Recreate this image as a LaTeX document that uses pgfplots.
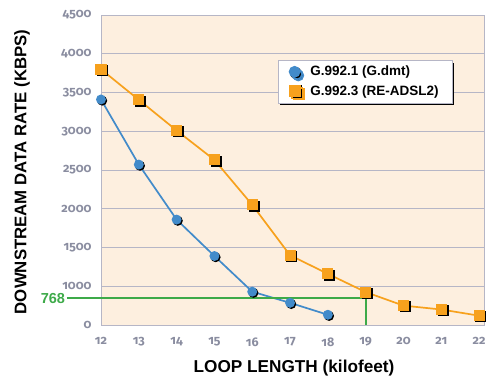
\documentclass[border=0pt]{standalone}
\usepackage{fontspec}
\setmainfont{Liberation Sans}
\newfontfamily\tickfont{Fira Sans}[Numbers=OldStyle]
\usepackage{pgfplots}
\pgfplotsset{compat=1.18}
\usetikzlibrary{shadows}
\definecolor{bgc}{HTML}{FDEFDF}
\definecolor{gridc}{HTML}{B6B6C6}
\definecolor{tickc}{HTML}{8A8DA0}
\definecolor{blueC}{HTML}{428BCA}
\definecolor{orangeC}{HTML}{F7A11D}
\definecolor{greenC}{HTML}{3DAA49}
\pgfdeclareplotmark{sdot}{%
  \pgfpathcircle{\pgfpoint{1.2pt}{-1.2pt}}{\pgfplotmarksize}%
  \pgfsetfillcolor{black}\pgfusepath{fill}%
  \pgfpathcircle{\pgfpointorigin}{\pgfplotmarksize}%
  \pgfsetfillcolor{blueC}\pgfusepath{fill}}
\pgfdeclareplotmark{ssq}{%
  \pgfpathrectangle{\pgfpoint{-\pgfplotmarksize+1.8pt}{-\pgfplotmarksize-1.2pt}}{\pgfpoint{2\pgfplotmarksize}{2\pgfplotmarksize}}%
  \pgfsetfillcolor{black}\pgfusepath{fill}%
  \pgfpathrectangle{\pgfpoint{-\pgfplotmarksize}{-\pgfplotmarksize}}{\pgfpoint{2\pgfplotmarksize}{2\pgfplotmarksize}}%
  \pgfsetfillcolor{orangeC}\pgfusepath{fill}}
\begin{document}
\begin{tikzpicture}
\begin{axis}[
  scale only axis, width=383pt, height=310pt,
  xmin=12, xmax=22.13, ymin=500, ymax=4500,
  xtick={12,13,14,15,16,17,18,19,20,21,22},
  xticklabels={12,13,14,15,16,17,18,19,20,21,22},
  ytick={500,1000,1500,2000,2500,3000,3500,4000,4500},
  yticklabels={0,1000,1500,2000,2500,3000,3500,4000,4500},
  ymajorgrids, grid style={gridc, line width=0.9pt},
  axis line style={gridc, line width=0.9pt},
  major tick length=0pt,
  tick label style={font=\tickfont\bfseries\fontsize{12.5}{14}\selectfont, text=tickc},
  xticklabel style={yshift=-9pt},
  yticklabel style={xshift=-6pt},
  axis background/.style={fill=bgc},
  clip=false,
  xlabel={LOOP LENGTH (kilofeet)},
  ylabel={DOWNSTREAM DATA RATE (KBPS)},
  xlabel style={at={(axis description cs:0.504,-0.139)}, anchor=center, font=\bfseries\fontsize{17.2}{19}\selectfont},
  ylabel style={at={(axis description cs:-0.206,0.494)}, anchor=center, rotate=0, font=\bfseries\fontsize{16.8}{19}\selectfont},
  legend style={at={(rel axis cs:0.461,0.855)}, anchor=north west, draw=gridc, fill=white,
    drop shadow={shadow xshift=2.5pt, shadow yshift=-2.5pt, opacity=1, fill=black},
    font=\bfseries\fontsize{13.5}{15}\selectfont, inner xsep=11pt, inner ysep=4pt, row sep=4pt,
    /tikz/every odd column/.append style={column sep=6pt}},
  legend cell align=left,
]
\addplot[blueC, line width=1.7pt, mark=sdot, mark size=5pt,
  legend image code/.code={\fill[black] (6.2pt,-1.2pt) circle (5pt); \fill[blueC] (5pt,0pt) circle (5pt);}]
  coordinates {(12,3410) (13,2570) (14,1860) (15,1390) (16,930) (17,786) (18,632)};
\addlegendentry{G.992.1 (G.dmt)}
\addplot[orangeC, line width=1.7pt, mark=ssq, mark size=5.5pt,
  legend image code/.code={\fill[black] (2pt,-5.5pt) rectangle (12pt,5pt); \fill[orangeC] (0pt,-5pt) rectangle (10.5pt,5.5pt);}]
  coordinates {(12,3800) (13,3405) (14,3010) (15,2630) (16,2050) (17,1400) (18,1160) (19,925) (20,750) (21,700) (22,620)};
\addlegendentry{G.992.3 (RE-ADSL2)}
\addplot[greenC, line width=2pt, forget plot] coordinates {(11.1,842) (19,842) (19,500)};
\node[anchor=east, text=greenC, font=\bfseries\fontsize{14.5}{16}\selectfont, inner sep=1pt] at (axis cs:11.08,842) {768};
\end{axis}
\path (-101pt,-60pt) rectangle (401pt,325pt);
\end{tikzpicture}
\end{document}
